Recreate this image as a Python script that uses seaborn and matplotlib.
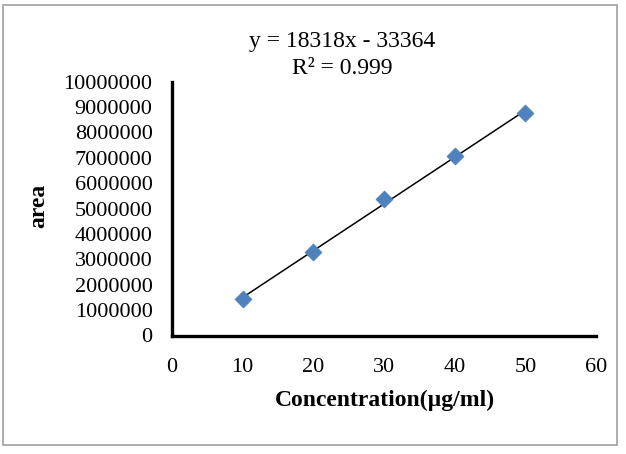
import numpy as np
import pandas as pd
import matplotlib
matplotlib.use("Agg")
import matplotlib.pyplot as plt
from matplotlib.patches import Rectangle
import seaborn as sns

# data
concentration = [10, 20, 30, 40, 50]
area = [1440000, 3280000, 5370000, 7080000, 8750000]
equation_text = "y = 18318x - 33364"
r2_text = "R² = 0.999"

df = pd.DataFrame({"conc": concentration, "area": area})

sns.set_theme(style="white")
plt.rcParams["font.family"] = ["Liberation Serif", "DejaVu Serif"]
plt.rcParams["text.color"] = "black"
plt.rcParams["axes.labelcolor"] = "black"

fig = plt.figure(figsize=(6.26, 4.54), dpi=100)
ax = fig.add_axes([172 / 626, 1 - 335.5 / 454, 424 / 626, 253.8 / 454])

# trendline over the data range
sns.regplot(data=df, x="conc", y="area", ax=ax, scatter=False, ci=None,
            truncate=True, color="black", line_kws={"linewidth": 1.1})
sns.scatterplot(data=df, x="conc", y="area", ax=ax, marker="D", s=75,
                color="#4F81BD", edgecolor="#4F81BD", linewidth=0.5, zorder=3)

ax.set_xlim(0, 60)
ax.set_ylim(0, 10000000)
ax.set_xticks(range(0, 61, 10))
ax.set_yticks(range(0, 10000001, 1000000))
ax.set_yticklabels([str(v) for v in range(0, 10000001, 1000000)])
ax.tick_params(axis="both", length=0, labelsize=16, colors="black")
ax.tick_params(axis="x", pad=16)
ax.tick_params(axis="y", pad=14)

for side in ["top", "right"]:
    ax.spines[side].set_visible(False)
for side in ["left", "bottom"]:
    ax.spines[side].set_color("black")
    ax.spines[side].set_linewidth(2.4)

ax.set_xlabel("Concentration(µg/ml)", fontsize=17, fontweight="bold")
ax.set_ylabel("area", fontsize=17, fontweight="bold")
ax.xaxis.label.set_va("center")
ax.yaxis.label.set_va("center")
ax.xaxis.set_label_coords(0.502, -0.254)
ax.yaxis.set_label_coords(-0.314, 0.51)

fig.text(342 / 626, 1 - 42 / 454, equation_text, ha="center", va="center", fontsize=17)
fig.text(342 / 626, 1 - 68.5 / 454, r2_text, ha="center", va="center", fontsize=17)

fig.patches.append(Rectangle((3 / 626, 1 - 445 / 454), 614 / 626, 440 / 454,
                             transform=fig.transFigure, fill=False,
                             edgecolor="#a0a0a0", linewidth=1.2))

fig.savefig("out.png", dpi=100)
